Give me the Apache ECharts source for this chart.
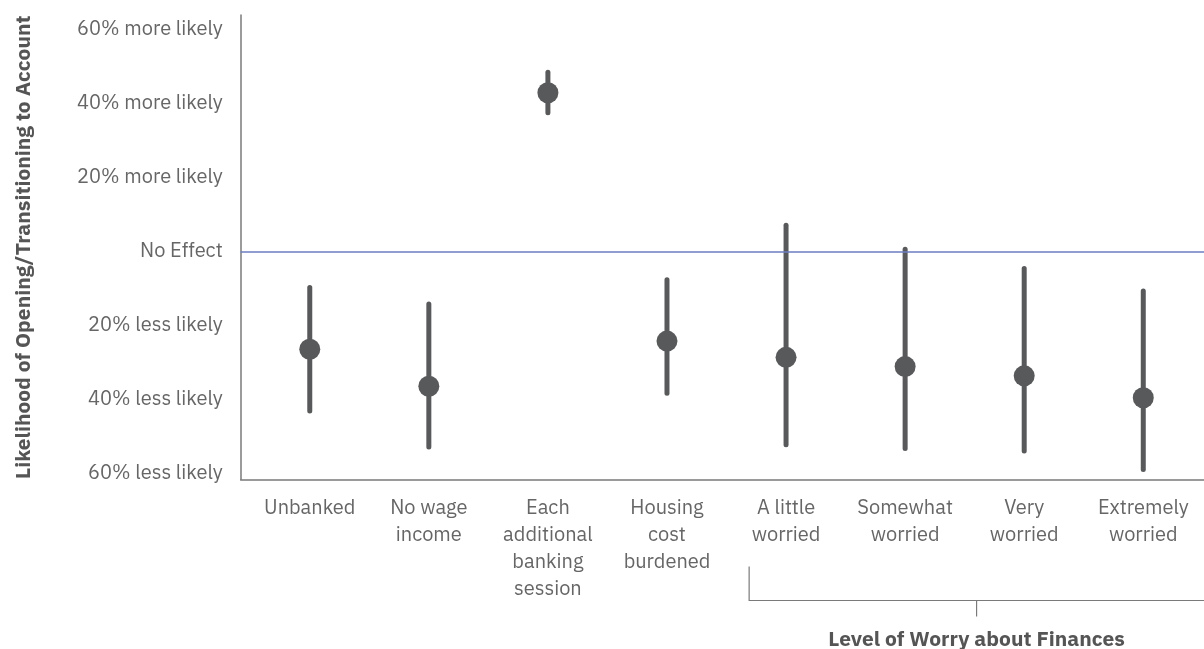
<!DOCTYPE html>
<html>
<head>
<meta charset="utf-8">
<script src="https://cdn.jsdelivr.net/npm/echarts@6/dist/echarts.min.js"></script>
<style>
  html, body { margin: 0; padding: 0; background: #fff; }
  #chart { width: 1204px; height: 649px; }
</style>
</head>
<body>
<div id="chart"></div>
<script>
// Predictors of opening / transitioning to an account (percent change vs. no effect)
const categories = [
  'Unbanked', 'No wage\nincome', 'Each\nadditional\nbanking\nsession', 'Housing\ncost\nburdened',
  'A little\nworried', 'Somewhat\nworried', 'Very\nworried', 'Extremely\nworried'
];
const estimates = [-26.4, -36.4, 42.9, -24.2, -28.6, -31.1, -33.6, -39.5];
const lowerBounds = [-43.1, -52.8, 37.5, -38.3, -52.2, -53.2, -53.9, -58.9];
const upperBounds = [-9.7, -14.2, 48.4, -7.6, 7.1, 0.6, -4.6, -10.7];

const yTickValues = [-60, -40, -20, 0, 20, 40, 60];
const yTickLabels = ['60% less likely', '40% less likely', '20% less likely', 'No Effect',
                     '20% more likely', '40% more likely', '60% more likely'];

const groupLabel = 'Level of Worry about Finances';
const groupStart = 4;  // first category in the worry group

const FONT = '"IBM Plex Sans", "Noto Sans", sans-serif';
const TEXT = '#666666';
const MARK = '#58595b';
const AXIS = '#7a7a7a';

const chart = echarts.init(document.getElementById('chart'), null, { renderer: 'canvas' });

const intervals = categories.map((c, i) => [i, lowerBounds[i], upperBounds[i]]);
const points = categories.map((c, i) => [i, estimates[i]]);

const option = {
  animation: false,
  backgroundColor: '#ffffff',
  grid: { left: 240.7, right: 0, top: 15, bottom: 169.5, containLabel: false },
  xAxis: {
    type: 'value',
    min: -0.58,
    max: 7.51,
    axisLine: { show: true, onZero: false, lineStyle: { color: AXIS, width: 1.5 } },
    axisTick: { show: false },
    splitLine: { show: false },
    axisLabel: {
      customValues: categories.map((c, i) => i),
      formatter: v => categories[Math.round(v)],
      color: TEXT,
      fontFamily: FONT,
      fontSize: 20,
      lineHeight: 27,
      margin: 15,
      align: 'center',
      verticalAlign: 'top'
    }
  },
  yAxis: {
    type: 'value',
    min: -61.6,
    max: 63.9,
    name: 'Likelihood of Opening/Transitioning to Account',
    nameLocation: 'middle',
    nameGap: 206,
    nameTextStyle: { color: '#555555', fontFamily: FONT, fontSize: 21, fontWeight: 'bold' },
    axisLine: { show: true, onZero: false, lineStyle: { color: AXIS, width: 1.5 } },
    axisTick: { show: false },
    splitLine: { show: false },
    axisLabel: {
      customValues: yTickValues,
      formatter: v => yTickLabels[yTickValues.indexOf(v)],
      color: TEXT,
      fontFamily: FONT,
      fontSize: 20,
      margin: 18
    }
  },
  series: [
    {
      type: 'custom',
      name: 'interval',
      data: intervals,
      z: 2,
      renderItem: (params, api) => {
        const lo = api.coord([api.value(0), api.value(1)]);
        const hi = api.coord([api.value(0), api.value(2)]);
        return {
          type: 'line',
          shape: { x1: lo[0], y1: lo[1], x2: hi[0], y2: hi[1] },
          style: { stroke: MARK, lineWidth: 5, lineCap: 'round' }
        };
      },
      markLine: {
        silent: true,
        symbol: 'none',
        label: { show: false },
        lineStyle: { color: '#6b7cc2', width: 1.5, type: 'solid' },
        data: [{ yAxis: 0 }]
      }
    },
    {
      type: 'scatter',
      name: 'estimate',
      data: points,
      symbol: 'circle',
      symbolSize: 21,
      z: 3,
      itemStyle: { color: MARK, opacity: 1 }
    }
  ]
};

chart.setOption(option);

// Bracket grouping the worry-level categories, placed from the axis scales
function drawBracket() {
  const left = chart.convertToPixel({ xAxisIndex: 0 }, groupStart - 0.31);
  const right = chart.convertToPixel({ xAxisIndex: 0 }, 7.51);
  const mid = (left + right) / 2;
  const axisY = chart.convertToPixel({ yAxisIndex: 0 }, -61.6);
  const top = axisY + 87;
  const base = axisY + 121;
  chart.setOption({
    graphic: [
      {
        type: 'polyline',
        shape: { points: [[left, top], [left, base], [right, base]] },
        style: { stroke: AXIS, lineWidth: 1.2, fill: null },
        silent: true
      },
      {
        type: 'line',
        shape: { x1: mid, y1: base, x2: mid, y2: base + 16 },
        style: { stroke: AXIS, lineWidth: 1.2 },
        silent: true
      },
      {
        type: 'text',
        x: mid,
        y: base + 39,
        style: {
          text: groupLabel,
          fill: '#555555',
          font: 'bold 21px ' + FONT,
          align: 'center',
          verticalAlign: 'middle'
        },
        silent: true
      }
    ]
  });
}
drawBracket();
</script>
</body>
</html>
